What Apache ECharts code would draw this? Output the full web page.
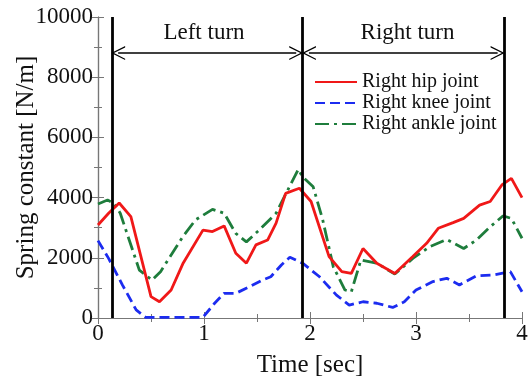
<!DOCTYPE html>
<html>
<head>
<meta charset="utf-8">
<script src="https://cdn.jsdelivr.net/npm/echarts@6/dist/echarts.min.js"></script>
<style>html,body{margin:0;padding:0;background:#fff}#c{width:530px;height:383px}</style>
</head>
<body>
<div id="c"></div>
<script>
// ---- data ----
var seriesNames = ['Right hip joint', 'Right knee joint', 'Right ankle joint'];
var hipTime   = [0, 0.10, 0.20, 0.31, 0.50, 0.58, 0.69, 0.80, 0.99, 1.08, 1.19, 1.30, 1.40, 1.49, 1.60, 1.68, 1.77, 1.90, 2.01, 2.18, 2.30, 2.39, 2.50, 2.63, 2.80, 2.97, 3.10, 3.21, 3.35, 3.45, 3.60, 3.70, 3.81, 3.90, 4.00];
var hipValues = [3090, 3480, 3820, 3370, 710, 540, 930, 1800, 2920, 2870, 3060, 2150, 1820, 2430, 2590, 3150, 4140, 4310, 3870, 2040, 1540, 1480, 2310, 1820, 1480, 2040, 2480, 2980, 3170, 3310, 3750, 3870, 4420, 4640, 4000];
var kneeTime   = [0, 0.10, 0.23, 0.36, 0.45, 0.99, 1.10, 1.19, 1.30, 1.43, 1.55, 1.63, 1.73, 1.81, 1.93, 2.09, 2.25, 2.37, 2.50, 2.63, 2.78, 2.89, 3.00, 3.16, 3.29, 3.41, 3.57, 3.73, 3.89, 4.00];
var kneeValues = [2570, 1980, 1100, 270, 20, 20, 490, 820, 820, 1040, 1260, 1370, 1760, 2020, 1820, 1370, 760, 430, 540, 490, 350, 540, 930, 1210, 1320, 1100, 1400, 1430, 1540, 870];
var ankleTime   = [0, 0.09, 0.15, 0.21, 0.39, 0.51, 0.59, 0.80, 0.92, 1.08, 1.19, 1.30, 1.40, 1.52, 1.68, 1.79, 1.89, 1.93, 2.03, 2.12, 2.22, 2.33, 2.39, 2.48, 2.63, 2.80, 2.97, 3.13, 3.29, 3.45, 3.57, 3.70, 3.82, 3.90, 4.00];
var ankleValues = [3790, 3920, 3810, 3480, 1590, 1260, 1540, 2700, 3260, 3610, 3480, 2810, 2530, 2920, 3480, 4250, 4940, 4690, 4360, 3260, 1700, 930, 870, 1930, 1820, 1460, 1980, 2370, 2610, 2310, 2590, 3030, 3390, 3310, 2650];
var phaseBounds = [0.13, 1.93, 3.83];
var phaseLabels = ['Left turn', 'Right turn'];
var phaseLabelX = [1.0, 2.92];
var phaseLabelY = 9470;
var arrowY = 8800;
var arrowSpans = [[0.19, 1.87], [1.99, 3.77]];
var xTicks = { min: 0, max: 4, interval: 1 };
var yTicks = { min: 0, max: 10000, interval: 2000 };

function zip(t, v) { return t.map(function (x, i) { return [x, v[i]]; }); }

var FONT = 'Liberation Serif';
var chevron = 'path://M0,0 L7,14 L5.6,14 L0,2.8 L-5.6,14 L-7,14 Z';

var axisCommon = {
  type: 'value',
  axisLine: { show: true, lineStyle: { color: '#777', width: 1.2 } },
  axisTick: { show: true, inside: true, length: 6, lineStyle: { color: '#777' } },
  minorTick: { show: true, splitNumber: 2, length: 4, lineStyle: { color: '#777' } },
  splitLine: { show: false },
  minorSplitLine: { show: false }
};

function merge(a, b) { var o = {}; for (var k in a) o[k] = a[k]; for (var k2 in b) o[k2] = b[k2]; return o; }

var markLineData = phaseBounds.map(function (x) { return { xAxis: x }; });
var arrowData = arrowSpans.map(function (s) { return [{ coord: [s[0], arrowY] }, { coord: [s[1], arrowY] }]; });

var option = {
  animation: false,
  textStyle: { fontFamily: FONT },
  grid: { left: 98, right: 8, top: 17, bottom: 65, outerBoundsMode: 'none', containLabel: false },
  legend: {
    orient: 'vertical', left: 309, top: 67,
    itemWidth: 42, itemHeight: 12, itemGap: 1,
    itemStyle: { opacity: 0 },
    textStyle: { fontFamily: FONT, fontSize: 20, color: '#111' },
    data: seriesNames
  },
  xAxis: [
    merge(axisCommon, {
      min: xTicks.min, max: xTicks.max, interval: xTicks.interval, position: 'bottom',
      name: 'Time [sec]', nameLocation: 'middle', nameGap: 35, nameMoveOverlap: false,
      nameTextStyle: { fontFamily: FONT, fontSize: 25, color: '#111' },
      axisLabel: { fontFamily: FONT, fontSize: 23, color: '#111', margin: 4 }
    }),
    merge(axisCommon, {
      min: xTicks.min, max: xTicks.max, interval: xTicks.interval, position: 'top',
      axisLabel: { show: false }
    })
  ],
  yAxis: [
    merge(axisCommon, {
      min: yTicks.min, max: yTicks.max, interval: yTicks.interval, position: 'left',
      name: 'Spring constant [N/m]', nameLocation: 'middle', nameGap: 59, nameMoveOverlap: false,
      nameTextStyle: { fontFamily: FONT, fontSize: 25, color: '#111' },
      axisLabel: { fontFamily: FONT, fontSize: 23, color: '#111', margin: 5,
        formatter: function (v) { return String(v); } }
    }),
    merge(axisCommon, {
      min: yTicks.min, max: yTicks.max, interval: yTicks.interval, position: 'right',
      axisLabel: { show: false }
    })
  ],
  series: [
    {
      name: seriesNames[0], type: 'line', data: zip(hipTime, hipValues),
      showSymbol: false, symbol: 'none', color: '#f01818',
      lineStyle: { width: 2.8, color: '#f01818' },
      z: 3,
      markLine: {
        silent: true, symbol: ['none', 'none'], animation: false,
        label: { show: false },
        lineStyle: { color: '#000', width: 2.8, type: 'solid' },
        data: markLineData
      }
    },
    {
      name: seriesNames[1], type: 'line', data: zip(kneeTime, kneeValues),
      showSymbol: false, symbol: 'none', color: '#1c2cf0',
      lineStyle: { width: 2.8, color: '#1c2cf0', type: [10, 5] },
      z: 2,
      markLine: {
        silent: true, symbol: [chevron, chevron], symbolSize: [14, 14], animation: false,
        label: { show: false },
        lineStyle: { color: '#000', width: 1.5, type: 'solid' },
        data: arrowData
      }
    },
    {
      name: seriesNames[2], type: 'line', data: zip(ankleTime, ankleValues),
      showSymbol: false, symbol: 'none', color: '#1e7d3c',
      lineStyle: { width: 2.8, color: '#1e7d3c', type: [14, 5, 3, 5] },
      z: 2,
      markPoint: {
        silent: true, symbol: 'circle', symbolSize: 0, animation: false,
        label: { show: true, position: 'inside', fontFamily: FONT, fontSize: 23, color: '#111',
          formatter: function (p) { return p.name; } },
        data: phaseLabels.map(function (n, i) { return { name: n, coord: [phaseLabelX[i], phaseLabelY] }; })
      }
    }
  ]
};

var chart = echarts.init(document.getElementById('c'), null, { renderer: 'canvas' });
chart.setOption(option);
</script>
</body>
</html>
